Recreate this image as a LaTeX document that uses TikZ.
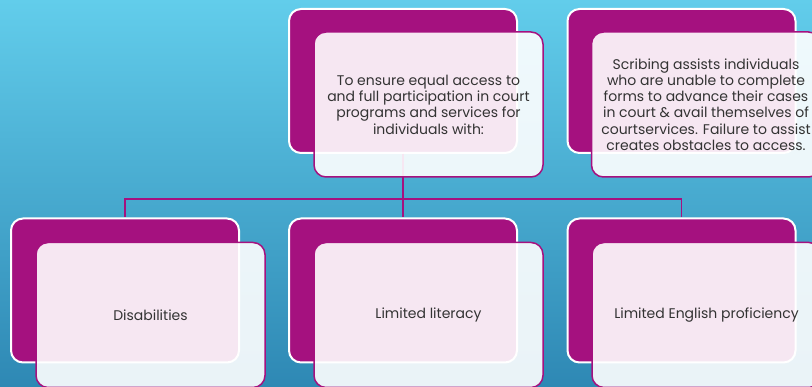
\documentclass[tikz,border=0pt]{standalone}
\usepackage{fontspec}
\setmainfont{Poppins}
\definecolor{mag}{HTML}{A5117F}
\definecolor{bgtop}{HTML}{62CDEB}
\definecolor{bgbot}{HTML}{2E88B4}
\definecolor{txt}{HTML}{333333}
\tikzset{
  backbox/.style={draw=white, line width=2pt, fill=mag, rounded corners=12pt,
    minimum width=228pt, minimum height=144pt, inner sep=0pt},
  frontbox/.style={draw=mag, line width=1.5pt, fill=white, fill opacity=0.9, text opacity=1,
    rounded corners=12pt, minimum width=229pt, minimum height=145pt, inner sep=0pt,
    text=txt, font=\fontsize{14}{16.3}\selectfont, align=center},
  conn/.style={draw=mag, line width=1.5pt}
}
\begin{document}
\begin{tikzpicture}[x=1pt,y=-1pt]
\useasboundingbox (0,0) rectangle (812,387);
\shade[top color=bgtop, bottom color=bgbot] (0,0) rectangle (812,387);
\begin{scope}
\clip (0,0) rectangle (812,387);
% back boxes
\node[backbox] (tb) at (403,81) {};
\node[backbox] (rb) at (681.5,81) {};
\node[backbox] (b1) at (125,290.5) {};
\node[backbox] (b2) at (403,290.5) {};
\node[backbox] (b3) at (681.5,290.5) {};
% connectors
\coordinate (bus) at (403,199);
\draw[conn] (tb.south) -- (bus);
\draw[conn] (bus) -| (b1.north);
\draw[conn] (bus) -| (b3.north);
\draw[conn] (bus) -- (b2.north);
% front boxes
\node[frontbox] (tf) at (428.5,104.5) {To ensure equal access to\\and full participation in court\\programs and services for\\individuals with:};
\node[frontbox] (rf) at (706,104.5) {Scribing assists individuals\\who are unable to complete\\forms to advance their cases\\in court \& avail themselves of\\courtservices. Failure to assist\\creates obstacles to access.};
\node[frontbox] (f1) at (150.5,315) {Disabilities};
\node[frontbox] (f2) at (428.5,315) {Limited literacy};
\node[frontbox] (f3) at (706.5,315) {Limited English proficiency};
\end{scope}
\end{tikzpicture}
\end{document}
